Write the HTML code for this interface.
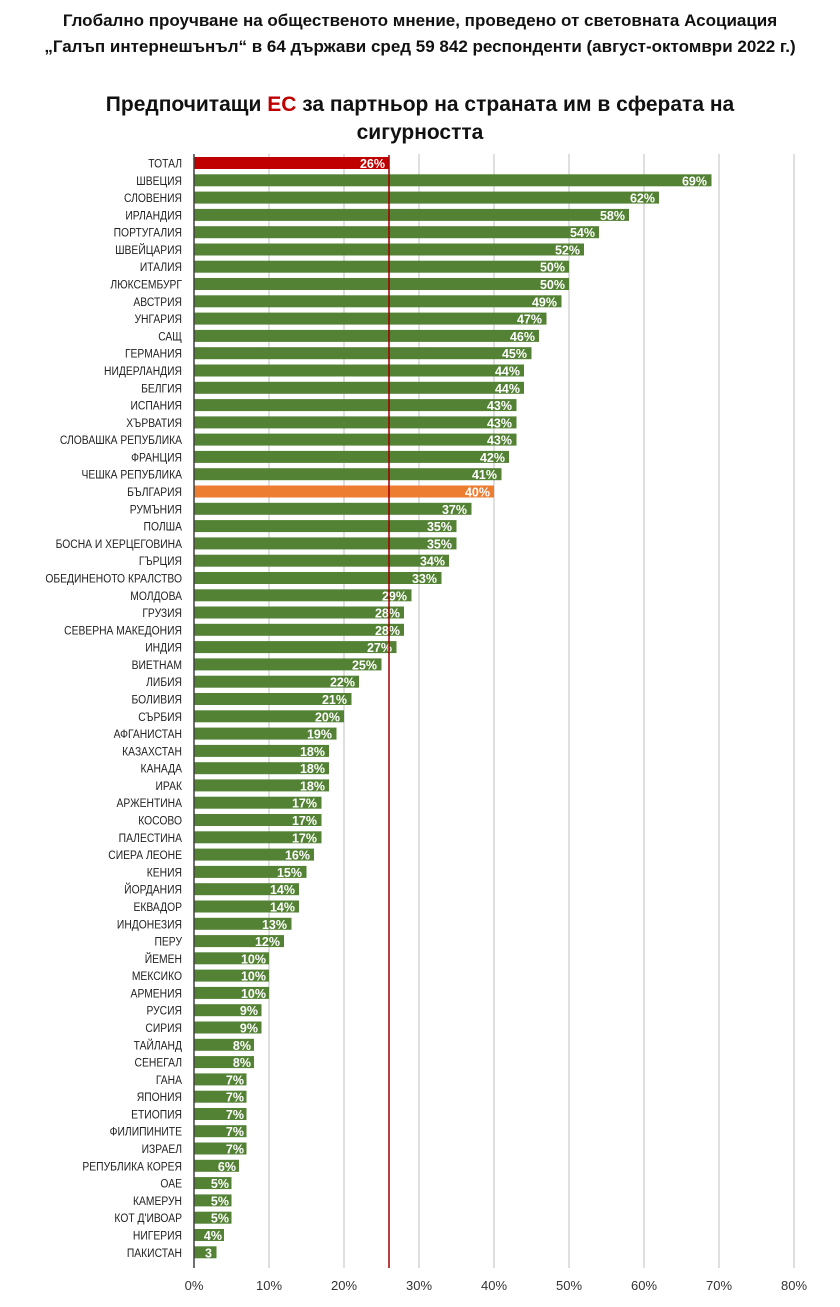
<!DOCTYPE html>
<html><head><meta charset="utf-8"><style>
body{margin:0;background:#fff;width:840px;height:1307px;overflow:hidden}
svg{display:block}
text{font-family:"Liberation Sans Narrow","Liberation Sans","Noto Sans CJK SC",sans-serif}
.l{font-size:12px;fill:#222;text-anchor:end;transform:scaleX(.86);transform-origin:182px 0}
.v{font-size:12.5px;fill:#fff;font-weight:bold;text-anchor:end}
.g{fill:#548235}
.t{font-size:13px;fill:#333;text-anchor:middle}
</style></head><body>
<svg width="840" height="1307" viewBox="0 0 840 1307">
<text x="420" y="26" text-anchor="middle" style="font-size:17px;font-weight:bold;fill:#111">Глобално проучване на общественото мнение, проведено от световната Асоциация</text>
<text x="420" y="52" text-anchor="middle" style="font-size:17px;font-weight:bold;fill:#111">„Галъп интернешънъл“ в 64 държави сред 59 842 респонденти (август-октомври 2022 г.)</text>
<text x="420" y="111" text-anchor="middle" style="font-size:21px;font-weight:bold;fill:#111">Предпочитащи <tspan fill="#C00000">ЕС</tspan> за партньор на страната им в сферата на</text>
<text x="420" y="139" text-anchor="middle" style="font-size:21px;font-weight:bold;fill:#111">сигурността</text>
<g stroke="#bfbfbf" stroke-width="1">
<line x1="269" y1="154" x2="269" y2="1268"/><line x1="344" y1="154" x2="344" y2="1268"/><line x1="419" y1="154" x2="419" y2="1268"/><line x1="494" y1="154" x2="494" y2="1268"/><line x1="569" y1="154" x2="569" y2="1268"/><line x1="644" y1="154" x2="644" y2="1268"/><line x1="719" y1="154" x2="719" y2="1268"/><line x1="794" y1="154" x2="794" y2="1268"/>
</g>
<g>
<g transform="translate(0,157)"><text class="l" x="182" y="10.5">ТОТАЛ</text><rect x="194" width="195" height="12" fill="#C00000"/><text class="v" x="385" y="11">26%</text></g>
<g transform="translate(0,174.3)"><text class="l" x="182" y="10.5">ШВЕЦИЯ</text><rect class="g" x="194" width="517.5" height="12"/><text class="v" x="707" y="11">69%</text></g>
<g transform="translate(0,191.6)"><text class="l" x="182" y="10.5">СЛОВЕНИЯ</text><rect class="g" x="194" width="465" height="12"/><text class="v" x="655" y="11">62%</text></g>
<g transform="translate(0,208.9)"><text class="l" x="182" y="10.5">ИРЛАНДИЯ</text><rect class="g" x="194" width="435" height="12"/><text class="v" x="625" y="11">58%</text></g>
<g transform="translate(0,226.2)"><text class="l" x="182" y="10.5">ПОРТУГАЛИЯ</text><rect class="g" x="194" width="405" height="12"/><text class="v" x="595" y="11">54%</text></g>
<g transform="translate(0,243.5)"><text class="l" x="182" y="10.5">ШВЕЙЦАРИЯ</text><rect class="g" x="194" width="390" height="12"/><text class="v" x="580" y="11">52%</text></g>
<g transform="translate(0,260.7)"><text class="l" x="182" y="10.5">ИТАЛИЯ</text><rect class="g" x="194" width="375" height="12"/><text class="v" x="565" y="11">50%</text></g>
<g transform="translate(0,278)"><text class="l" x="182" y="10.5">ЛЮКСЕМБУРГ</text><rect class="g" x="194" width="375" height="12"/><text class="v" x="565" y="11">50%</text></g>
<g transform="translate(0,295.3)"><text class="l" x="182" y="10.5">АВСТРИЯ</text><rect class="g" x="194" width="367.5" height="12"/><text class="v" x="557" y="11">49%</text></g>
<g transform="translate(0,312.6)"><text class="l" x="182" y="10.5">УНГАРИЯ</text><rect class="g" x="194" width="352.5" height="12"/><text class="v" x="542" y="11">47%</text></g>
<g transform="translate(0,329.9)"><text class="l" x="182" y="10.5">САЩ</text><rect class="g" x="194" width="345" height="12"/><text class="v" x="535" y="11">46%</text></g>
<g transform="translate(0,347.2)"><text class="l" x="182" y="10.5">ГЕРМАНИЯ</text><rect class="g" x="194" width="337.5" height="12"/><text class="v" x="527" y="11">45%</text></g>
<g transform="translate(0,364.5)"><text class="l" x="182" y="10.5">НИДЕРЛАНДИЯ</text><rect class="g" x="194" width="330" height="12"/><text class="v" x="520" y="11">44%</text></g>
<g transform="translate(0,381.8)"><text class="l" x="182" y="10.5">БЕЛГИЯ</text><rect class="g" x="194" width="330" height="12"/><text class="v" x="520" y="11">44%</text></g>
<g transform="translate(0,399.1)"><text class="l" x="182" y="10.5">ИСПАНИЯ</text><rect class="g" x="194" width="322.5" height="12"/><text class="v" x="512" y="11">43%</text></g>
<g transform="translate(0,416.4)"><text class="l" x="182" y="10.5">ХЪРВАТИЯ</text><rect class="g" x="194" width="322.5" height="12"/><text class="v" x="512" y="11">43%</text></g>
<g transform="translate(0,433.6)"><text class="l" x="182" y="10.5">СЛОВАШКА РЕПУБЛИКА</text><rect class="g" x="194" width="322.5" height="12"/><text class="v" x="512" y="11">43%</text></g>
<g transform="translate(0,450.9)"><text class="l" x="182" y="10.5">ФРАНЦИЯ</text><rect class="g" x="194" width="315" height="12"/><text class="v" x="505" y="11">42%</text></g>
<g transform="translate(0,468.2)"><text class="l" x="182" y="10.5">ЧЕШКА РЕПУБЛИКА</text><rect class="g" x="194" width="307.5" height="12"/><text class="v" x="497" y="11">41%</text></g>
<g transform="translate(0,485.5)"><text class="l" x="182" y="10.5">БЪЛГАРИЯ</text><rect x="194" width="300" height="12" fill="#ED7D31"/><text class="v" x="490" y="11">40%</text></g>
<g transform="translate(0,502.8)"><text class="l" x="182" y="10.5">РУМЪНИЯ</text><rect class="g" x="194" width="277.5" height="12"/><text class="v" x="467" y="11">37%</text></g>
<g transform="translate(0,520.1)"><text class="l" x="182" y="10.5">ПОЛША</text><rect class="g" x="194" width="262.5" height="12"/><text class="v" x="452" y="11">35%</text></g>
<g transform="translate(0,537.4)"><text class="l" x="182" y="10.5">БОСНА И ХЕРЦЕГОВИНА</text><rect class="g" x="194" width="262.5" height="12"/><text class="v" x="452" y="11">35%</text></g>
<g transform="translate(0,554.7)"><text class="l" x="182" y="10.5">ГЪРЦИЯ</text><rect class="g" x="194" width="255" height="12"/><text class="v" x="445" y="11">34%</text></g>
<g transform="translate(0,572)"><text class="l" x="182" y="10.5">ОБЕДИНЕНОТО КРАЛСТВО</text><rect class="g" x="194" width="247.5" height="12"/><text class="v" x="437" y="11">33%</text></g>
<g transform="translate(0,589.3)"><text class="l" x="182" y="10.5">МОЛДОВА</text><rect class="g" x="194" width="217.5" height="12"/><text class="v" x="407" y="11">29%</text></g>
<g transform="translate(0,606.5)"><text class="l" x="182" y="10.5">ГРУЗИЯ</text><rect class="g" x="194" width="210" height="12"/><text class="v" x="400" y="11">28%</text></g>
<g transform="translate(0,623.8)"><text class="l" x="182" y="10.5">СЕВЕРНА МАКЕДОНИЯ</text><rect class="g" x="194" width="210" height="12"/><text class="v" x="400" y="11">28%</text></g>
<g transform="translate(0,641.1)"><text class="l" x="182" y="10.5">ИНДИЯ</text><rect class="g" x="194" width="202.5" height="12"/><text class="v" x="392" y="11">27%</text></g>
<g transform="translate(0,658.4)"><text class="l" x="182" y="10.5">ВИЕТНАМ</text><rect class="g" x="194" width="187.5" height="12"/><text class="v" x="377" y="11">25%</text></g>
<g transform="translate(0,675.7)"><text class="l" x="182" y="10.5">ЛИБИЯ</text><rect class="g" x="194" width="165" height="12"/><text class="v" x="355" y="11">22%</text></g>
<g transform="translate(0,693)"><text class="l" x="182" y="10.5">БОЛИВИЯ</text><rect class="g" x="194" width="157.5" height="12"/><text class="v" x="347" y="11">21%</text></g>
<g transform="translate(0,710.3)"><text class="l" x="182" y="10.5">СЪРБИЯ</text><rect class="g" x="194" width="150" height="12"/><text class="v" x="340" y="11">20%</text></g>
<g transform="translate(0,727.6)"><text class="l" x="182" y="10.5">АФГАНИСТАН</text><rect class="g" x="194" width="142.5" height="12"/><text class="v" x="332" y="11">19%</text></g>
<g transform="translate(0,744.9)"><text class="l" x="182" y="10.5">КАЗАХСТАН</text><rect class="g" x="194" width="135" height="12"/><text class="v" x="325" y="11">18%</text></g>
<g transform="translate(0,762.2)"><text class="l" x="182" y="10.5">КАНАДА</text><rect class="g" x="194" width="135" height="12"/><text class="v" x="325" y="11">18%</text></g>
<g transform="translate(0,779.4)"><text class="l" x="182" y="10.5">ИРАК</text><rect class="g" x="194" width="135" height="12"/><text class="v" x="325" y="11">18%</text></g>
<g transform="translate(0,796.7)"><text class="l" x="182" y="10.5">АРЖЕНТИНА</text><rect class="g" x="194" width="127.5" height="12"/><text class="v" x="317" y="11">17%</text></g>
<g transform="translate(0,814)"><text class="l" x="182" y="10.5">КОСОВО</text><rect class="g" x="194" width="127.5" height="12"/><text class="v" x="317" y="11">17%</text></g>
<g transform="translate(0,831.3)"><text class="l" x="182" y="10.5">ПАЛЕСТИНА</text><rect class="g" x="194" width="127.5" height="12"/><text class="v" x="317" y="11">17%</text></g>
<g transform="translate(0,848.6)"><text class="l" x="182" y="10.5">СИЕРА ЛЕОНЕ</text><rect class="g" x="194" width="120" height="12"/><text class="v" x="310" y="11">16%</text></g>
<g transform="translate(0,865.9)"><text class="l" x="182" y="10.5">КЕНИЯ</text><rect class="g" x="194" width="112.5" height="12"/><text class="v" x="302" y="11">15%</text></g>
<g transform="translate(0,883.2)"><text class="l" x="182" y="10.5">ЙОРДАНИЯ</text><rect class="g" x="194" width="105" height="12"/><text class="v" x="295" y="11">14%</text></g>
<g transform="translate(0,900.5)"><text class="l" x="182" y="10.5">ЕКВАДОР</text><rect class="g" x="194" width="105" height="12"/><text class="v" x="295" y="11">14%</text></g>
<g transform="translate(0,917.8)"><text class="l" x="182" y="10.5">ИНДОНЕЗИЯ</text><rect class="g" x="194" width="97.5" height="12"/><text class="v" x="287" y="11">13%</text></g>
<g transform="translate(0,935.1)"><text class="l" x="182" y="10.5">ПЕРУ</text><rect class="g" x="194" width="90" height="12"/><text class="v" x="280" y="11">12%</text></g>
<g transform="translate(0,952.3)"><text class="l" x="182" y="10.5">ЙЕМЕН</text><rect class="g" x="194" width="75" height="12"/><text class="v" x="266" y="11">10%</text></g>
<g transform="translate(0,969.6)"><text class="l" x="182" y="10.5">МЕКСИКО</text><rect class="g" x="194" width="75" height="12"/><text class="v" x="266" y="11">10%</text></g>
<g transform="translate(0,986.9)"><text class="l" x="182" y="10.5">АРМЕНИЯ</text><rect class="g" x="194" width="75" height="12"/><text class="v" x="266" y="11">10%</text></g>
<g transform="translate(0,1004.2)"><text class="l" x="182" y="10.5">РУСИЯ</text><rect class="g" x="194" width="67.5" height="12"/><text class="v" x="258" y="11">9%</text></g>
<g transform="translate(0,1021.5)"><text class="l" x="182" y="10.5">СИРИЯ</text><rect class="g" x="194" width="67.5" height="12"/><text class="v" x="258" y="11">9%</text></g>
<g transform="translate(0,1038.8)"><text class="l" x="182" y="10.5">ТАЙЛАНД</text><rect class="g" x="194" width="60" height="12"/><text class="v" x="251" y="11">8%</text></g>
<g transform="translate(0,1056.1)"><text class="l" x="182" y="10.5">СЕНЕГАЛ</text><rect class="g" x="194" width="60" height="12"/><text class="v" x="251" y="11">8%</text></g>
<g transform="translate(0,1073.4)"><text class="l" x="182" y="10.5">ГАНА</text><rect class="g" x="194" width="52.5" height="12"/><text class="v" x="244" y="11">7%</text></g>
<g transform="translate(0,1090.7)"><text class="l" x="182" y="10.5">ЯПОНИЯ</text><rect class="g" x="194" width="52.5" height="12"/><text class="v" x="244" y="11">7%</text></g>
<g transform="translate(0,1108)"><text class="l" x="182" y="10.5">ЕТИОПИЯ</text><rect class="g" x="194" width="52.5" height="12"/><text class="v" x="244" y="11">7%</text></g>
<g transform="translate(0,1125.2)"><text class="l" x="182" y="10.5">ФИЛИПИНИТЕ</text><rect class="g" x="194" width="52.5" height="12"/><text class="v" x="244" y="11">7%</text></g>
<g transform="translate(0,1142.5)"><text class="l" x="182" y="10.5">ИЗРАЕЛ</text><rect class="g" x="194" width="52.5" height="12"/><text class="v" x="244" y="11">7%</text></g>
<g transform="translate(0,1159.8)"><text class="l" x="182" y="10.5">РЕПУБЛИКА КОРЕЯ</text><rect class="g" x="194" width="45" height="12"/><text class="v" x="236" y="11">6%</text></g>
<g transform="translate(0,1177.1)"><text class="l" x="182" y="10.5">ОАЕ</text><rect class="g" x="194" width="37.5" height="12"/><text class="v" x="229" y="11">5%</text></g>
<g transform="translate(0,1194.4)"><text class="l" x="182" y="10.5">КАМЕРУН</text><rect class="g" x="194" width="37.5" height="12"/><text class="v" x="229" y="11">5%</text></g>
<g transform="translate(0,1211.7)"><text class="l" x="182" y="10.5">КОТ Д'ИВОАР</text><rect class="g" x="194" width="37.5" height="12"/><text class="v" x="229" y="11">5%</text></g>
<g transform="translate(0,1229)"><text class="l" x="182" y="10.5">НИГЕРИЯ</text><rect class="g" x="194" width="30" height="12"/><text class="v" x="222" y="11">4%</text></g>
<g transform="translate(0,1246.3)"><text class="l" x="182" y="10.5">ПАКИСТАН</text><rect class="g" x="194" width="22.5" height="12"/><text class="v" x="205" y="11" style="text-anchor:start">3</text></g>
</g>
<line x1="194" y1="154" x2="194" y2="1268" stroke="#404040" stroke-width="1.5"/>
<line x1="389" y1="155" x2="389" y2="1268" stroke="#A00000" stroke-width="1.5"/>
<g>
<text class="t" x="194" y="1290">0%</text><text class="t" x="269" y="1290">10%</text><text class="t" x="344" y="1290">20%</text><text class="t" x="419" y="1290">30%</text><text class="t" x="494" y="1290">40%</text><text class="t" x="569" y="1290">50%</text><text class="t" x="644" y="1290">60%</text><text class="t" x="719" y="1290">70%</text><text class="t" x="794" y="1290">80%</text>
</g>
</svg>
</body></html>
